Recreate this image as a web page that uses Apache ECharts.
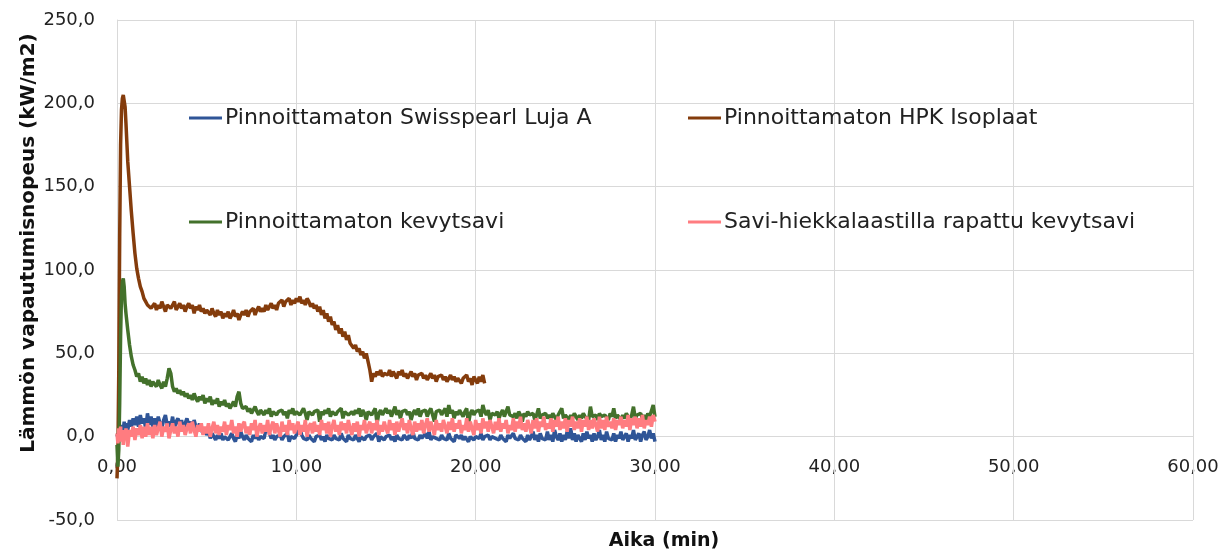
<!DOCTYPE html>
<html>
<head>
<meta charset="utf-8">
<script src="https://cdn.jsdelivr.net/npm/echarts@6/dist/echarts.min.js"></script>
<style>
html,body{margin:0;padding:0;background:#fff;}
#chart{width:1230px;height:557px;}
</style>
</head>
<body>
<div id="chart"></div>
<script>
// Time (min)
var times = [
  0,0.05,0.1,0.15,0.2,0.25,0.3,0.35,0.4,0.45,0.5,0.6,0.7,0.8,0.9,1.0,1.1,1.2,1.3,1.4,1.5,1.6,1.7,1.8,1.9,2.0,
  2.1,2.2,2.3,2.4,2.5,2.6,2.7,2.8,2.9,3.0, 3.1,3.2,3.3,3.4,3.5,3.6,3.7,3.8,3.9,4.0,
  4.1,4.2,4.3,4.4,4.5,4.6,4.7,4.8,4.9,5.0, 5.1,5.2,5.3,5.4,5.5,5.6,5.7,5.8,5.9,6.0,
  6.1,6.2,6.3,6.4,6.5,6.6,6.7,6.8,6.9,7.0, 7.1,7.2,7.3,7.4,7.5,7.6,7.7,7.8,7.9,8.0,
  8.1,8.2,8.3,8.4,8.5,8.6,8.7,8.8,8.9,9.0, 9.1,9.2,9.3,9.4,9.5,9.6,9.7,9.8,9.9,10.0,
  10.1,10.2,10.3,10.4,10.5,10.6,10.7,10.8,10.9,11.0, 11.1,11.2,11.3,11.4,11.5,11.6,11.7,11.8,11.9,12.0,
  12.1,12.2,12.3,12.4,12.5,12.6,12.7,12.8,12.9,13.0, 13.1,13.2,13.3,13.4,13.5,13.6,13.7,13.8,13.9,14.0,
  14.1,14.2,14.3,14.4,14.5,14.6,14.7,14.8,14.9,15.0, 15.1,15.2,15.3,15.4,15.5,15.6,15.7,15.8,15.9,16.0,
  16.1,16.2,16.3,16.4,16.5,16.6,16.7,16.8,16.9,17.0, 17.1,17.2,17.3,17.4,17.5,17.6,17.7,17.8,17.9,18.0,
  18.1,18.2,18.3,18.4,18.5,18.6,18.7,18.8,18.9,19.0, 19.1,19.2,19.3,19.4,19.5,19.6,19.7,19.8,19.9,20.0,
  20.1,20.2,20.3,20.4,20.5,20.6,20.7,20.8,20.9,21.0, 21.1,21.2,21.3,21.4,21.5,21.6,21.7,21.8,21.9,22.0,
  22.1,22.2,22.3,22.4,22.5,22.6,22.7,22.8,22.9,23.0, 23.1,23.2,23.3,23.4,23.5,23.6,23.7,23.8,23.9,24.0,
  24.1,24.2,24.3,24.4,24.5,24.6,24.7,24.8,24.9,25.0, 25.1,25.2,25.3,25.4,25.5,25.6,25.7,25.8,25.9,26.0,
  26.1,26.2,26.3,26.4,26.5,26.6,26.7,26.8,26.9,27.0, 27.1,27.2,27.3,27.4,27.5,27.6,27.7,27.8,27.9,28.0,
  28.1,28.2,28.3,28.4,28.5,28.6,28.7,28.8,28.9,29.0, 29.1,29.2,29.3,29.4,29.5,29.6,29.7,29.8,29.9,30.0
];

var seriesNames = [
  'Pinnoittamaton Swisspearl Luja A',
  'Pinnoittamaton HPK Isoplaat',
  'Pinnoittamaton kevytsavi',
  'Savi-hiekkalaastilla rapattu kevytsavi'
];

var swisspearl = [
  0,2,-1,3,5,2,7,4,9,5,8,4,10,6,11,7,12,6,13,8,11,5,14,7,12,6,
  11,6,12,8,5,10,13,7,9,6, 12,5,9,11,6,10,4,8,11,7,
  9,5,10,6,3,8,4,2,5,1, 3,-1,2,0,-2,1,-1,2,-2,0,
  1,-2,0,2,-1,-3,1,-1,3,0, -2,1,-1,0,-3,1,-1,2,-2,0,
  1,-1,4,6,2,-1,1,-2,0,-1, 1,-2,0,-1,2,-3,0,1,-1,0,
  3,5,1,-1,0,-2,1,-1,0,-3, 0,-1,1,-2,0,-3,1,-1,0,-2,
  1,-1,0,-2,2,-1,0,-3,1,-1, 0,-2,1,-1,-3,0,1,-2,0,-1,
  1,-2,0,-1,2,-3,0,1,-2,0, -1,1,-2,0,-3,1,-1,0,-2,1,
  0,-2,1,-1,3,-1,0,-2,1,-1, 0,2,-1,3,-2,0,1,-1,0,-2,
  1,-1,0,-2,2,-1,0,-3,1,0, -1,1,-2,0,-1,-3,0,1,-2,0,
  1,-1,2,-2,0,-1,1,-2,0,1, -1,0,-2,1,-1,0,-3,1,-1,0,
  2,-1,0,-2,1,-1,0,-3,1,-2, 0,3,-2,1,-3,2,-1,0,-2,3,
  -2,1,-3,4,0,-2,2,-3,1,-2, 3,-1,5,-2,2,-3,1,0,-3,2,
  -2,3,-1,1,-3,2,-2,0,4,-2, 1,-3,3,-1,0,-2,2,-3,1,-1,
  3,-2,0,2,-3,1,-1,4,-2,0, 2,-3,1,3,-2,0,4,-1,2,-3
];

var hpk = [
  -25,-10,40,120,175,196,203,205,204,198,188,165,150,135,122,110,101,95,90,87,83,81,79,80,77,78,
  80,76,79,77,81,78,75,79,80,77, 79,81,76,78,80,77,79,75,78,80,
  77,79,74,78,76,79,75,77,74,76, 75,73,77,74,72,76,73,75,71,74,
  72,75,71,73,76,72,74,70,73,75, 73,76,72,75,74,77,73,76,78,75,
  77,75,79,76,78,80,77,79,76,80, 79,82,78,81,80,83,79,82,80,83,
  81,84,80,82,79,83,81,78,80,77, 79,75,78,73,76,71,74,69,72,67,
  69,64,67,62,65,60,63,58,61,56, 57,53,55,51,53,49,51,47,50,45,
  40,33,38,36,39,37,40,36,38,39, 37,40,36,39,38,35,39,37,40,36,
  38,35,37,39,36,38,34,37,36,38, 35,37,34,36,38,35,37,33,36,35,
  37,34,36,33,35,37,34,36,33,35, 36,32,35,34,37,33,35,31,36,34,
  32,36,33,37,32
];

var kevytsavi = [
  -5,-18,-8,20,60,85,93,95,90,80,74,64,55,48,43,40,36,38,33,36,32,35,31,34,30,33,
  33,30,34,31,29,33,30,35,41,38, 30,27,29,26,28,25,27,24,26,23,
  25,22,26,23,21,24,22,25,20,23, 21,24,19,22,20,23,18,21,19,22,
  18,20,17,19,21,18,24,27,20,17, 16,18,15,17,14,16,18,15,13,16,
  15,13,16,14,17,12,15,16,13,15, 14,16,13,15,11,16,14,17,13,15,
  16,13,15,17,14,10,15,16,13,15, 14,16,9,15,13,16,14,17,12,15,
  16,13,15,14,17,11,15,16,13,14, 15,13,16,14,17,12,16,14,10,15,
  16,13,15,17,8,14,16,13,15,17, 14,16,12,15,18,13,16,11,15,14,
  16,13,15,10,14,16,13,17,12,15, 14,16,12,15,17,13,9,15,14,16,
  13,15,17,12,19,14,16,11,15,13, 16,14,12,15,17,8,14,16,13,15,
  14,16,12,19,15,13,16,10,14,15, 13,15,11,14,16,12,15,18,13,14,
  12,14,11,15,13,9,14,12,15,13, 12,14,10,13,17,11,13,12,14,11,
  13,11,14,12,10,13,12,17,11,13, 12,10,13,11,14,12,10,13,11,14,
  12,13,10,18,12,11,13,10,14,12, 11,13,12,10,14,12,17,11,13,12,
  10,13,11,14,12,10,13,18,11,13, 12,14,11,13,10,14,12,13,19,12
];

var rapattu = [
  2,-4,5,-2,6,-3,4,-5,3,-1,5,-6,4,0,6,-2,5,1,7,-1,6,0,8,1,6,-1,
  7,1,5,9,0,6,3,8,-1,4, 8,2,6,0,9,3,7,1,5,8,
  2,9,4,0,7,3,8,1,6,2, 8,0,5,9,2,7,1,6,3,9,
  1,7,4,10,2,6,0,8,3,7, 9,2,6,1,8,4,10,0,5,8,
  2,7,3,10,1,6,9,2,8,4, 0,9,3,7,1,10,4,8,2,6,
  9,1,7,3,10,0,6,8,2,9, 3,7,1,10,4,8,2,9,0,6,
  10,3,7,1,9,4,8,2,10,5, 1,8,3,9,0,7,4,10,2,6,
  9,2,8,4,10,1,7,3,9,5, 2,10,4,8,1,9,3,7,11,4,
  8,2,10,5,1,9,3,8,4,10, 2,7,11,3,9,5,1,10,4,8,
  3,10,6,2,9,4,11,3,8,5, 10,2,7,4,11,3,9,5,1,10,
  4,8,2,11,5,9,3,10,6,2, 9,4,11,3,8,5,10,2,7,4,
  11,3,9,5,12,4,8,3,10,6, 2,10,5,11,3,9,6,12,4,8,
  5,11,3,10,6,12,4,9,5,11, 3,10,6,12,4,9,5,11,3,10,
  6,12,4,10,5,11,7,3,12,5, 10,4,12,6,9,5,11,4,10,7,
  12,5,10,6,13,4,11,7,12,5, 11,6,13,5,10,7,12,6,13,9
];

// x tick values (labels sit just under the zero line, as in the original)
var xTicks = [0, 10, 20, 30, 40, 50, 60];

var xTitle = 'Aika (min)';
var yTitle = 'Lämmön vapautumisnopeus (kW/m2)';
var xMin = 0, xMax = 60, xStep = 10;
var yMin = -50, yMax = 250, yStep = 50;
var xTickFmt = function (v) { return v.toFixed(2).replace('.', ','); };
var yTickFmt = function (v) { return v.toFixed(1).replace('.', ','); };

var colors = ['#2F5597', '#843C0C', '#43712B', '#FF7C80'];
var valueSets = [swisspearl, hpk, kevytsavi, rapattu];

function pairs(vals) {
  var out = [];
  for (var i = 0; i < vals.length; i++) out.push([times[i], vals[i]]);
  return out;
}

var FONT = 'DejaVu Sans';
var W = 1230, H = 557;
var GRID = { left: 117, right: 37, top: 20, bottom: 37 };
var legendPos = [[184, 102], [683, 102], [184, 206], [683, 206]];

var legends = seriesNames.map(function (n, i) {
  return {
    data: [n],
    left: legendPos[i][0],
    top: legendPos[i][1],
    icon: 'rect',
    itemWidth: 33,
    itemHeight: 3,
    itemGap: 0,
    selectedMode: false,
    textStyle: { fontFamily: FONT, fontSize: 22, color: '#222', padding: [0, 0, 0, -2] }
  };
});

var lineSeries = valueSets.map(function (vals, i) {
  return {
    name: seriesNames[i],
    type: 'line',
    data: pairs(vals),
    showSymbol: false,
    symbol: 'none',
    lineStyle: { width: 3.5, color: colors[i] },
    itemStyle: { color: colors[i] },
    clip: false,
    z: 2 + i
  };
});

var titleGraphics = [
  { id: 'xTitle', type: 'text', x: 664, y: 541, style: { text: xTitle, fontFamily: FONT, fontSize: 19, fontWeight: 'bold', fill: '#111', align: 'center', verticalAlign: 'middle' } },
  { id: 'yTitle', type: 'text', x: 29, y: 243, rotation: Math.PI / 2, style: { text: yTitle, fontFamily: FONT, fontSize: 20, fontWeight: 'bold', fill: '#111', align: 'center', verticalAlign: 'middle' } }
];

var chart = echarts.init(document.getElementById('chart'), null, { renderer: 'canvas' });
chart.setOption({
  animation: false,
  color: colors,
  textStyle: { fontFamily: FONT },
  grid: { left: GRID.left, right: GRID.right, top: GRID.top, bottom: GRID.bottom, containLabel: false, outerBoundsMode: 'none' },
  legend: legends,
  graphic: titleGraphics,
  xAxis: {
    type: 'value', min: xMin, max: xMax, interval: xStep,
    axisLine: { show: false, onZero: false },
    axisTick: { show: false },
    axisLabel: { show: false },
    splitLine: { show: true, lineStyle: { color: '#d9d9d9', width: 1 } }
  },
  yAxis: {
    type: 'value', min: yMin, max: yMax, interval: yStep,
    axisLine: { show: true, lineStyle: { color: '#d9d9d9', width: 1 } },
    axisTick: { show: false },
    axisLabel: { formatter: yTickFmt, fontFamily: FONT, fontSize: 18, color: '#222', margin: 22 },
    splitLine: { show: true, lineStyle: { color: '#d9d9d9', width: 1 } }
  },
  series: lineSeries
});

// time-axis tick labels just under the zero line (x through the chart's own scale)
var gridH = H - GRID.top - GRID.bottom;
var zeroY = GRID.top + (yMax / (yMax - yMin)) * gridH;
var tickGraphics = xTicks.map(function (t, i) {
  var px = chart.convertToPixel({ xAxisIndex: 0 }, t);
  return {
    id: 'xtick' + i, type: 'text', x: px, y: zeroY + 31,
    style: { text: xTickFmt(t), fontFamily: FONT, fontSize: 18, fill: '#222', align: 'center', verticalAlign: 'middle' }
  };
});
chart.setOption({ graphic: titleGraphics.concat(tickGraphics) });
</script>
</body>
</html>
